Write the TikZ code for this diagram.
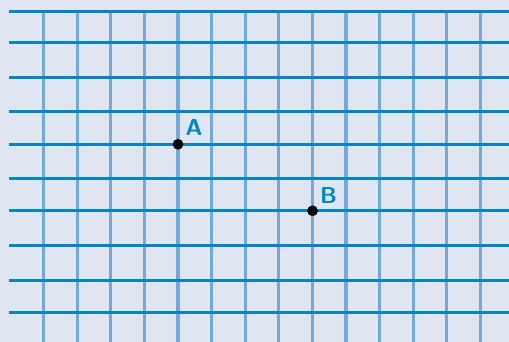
\documentclass[tikz,border=0pt]{standalone}
\usepackage{amsmath,amssymb}
\usepackage{xcolor}
\usepackage{tikz}

\definecolor{paper}{HTML}{DFE6F2}
\definecolor{gridblue}{HTML}{0084CE}
\definecolor{softblue}{HTML}{72A8DA}

\begin{document}
\begin{tikzpicture}[x=0.5pt,y=-0.5pt]
        \tikzstyle{hline} = [draw=gridblue, line width=1.5pt]
        \tikzstyle{vline} = [draw=softblue, line width=1.6pt]
        \tikzstyle{dot} = [circle, fill=black, inner sep=0pt, minimum size=5.4pt]
        \tikzstyle{lbl} = [text=gridblue, font=\sffamily\bfseries\fontsize{11.5}{13}\selectfont, inner sep=0pt]
        \fill[paper] (0,0) rectangle (509,342);
        \useasboundingbox (0,0) rectangle (509,342);
        % grid lines
        \foreach \k in {0,...,13}
            \draw[vline] (43.5+33.6*\k,11) -- (43.5+33.6*\k,342);
        \foreach \y in {11.5,42.5,77.5,112,144.3,179,210.5,245.5,280,312.5}
            \draw[hline] (9,\y) -- (509,\y);
        % points
        \node[dot] (A) at (178,144.3) {};
        \node[dot] (B) at (312.5,210.8) {};
        \node[lbl] (labA) at ([shift={(16,-16.5)}]A) {A};
        \node[lbl] (labB) at ([shift={(16,-15.5)}]B) {B};
    \end{tikzpicture}
\end{document}
